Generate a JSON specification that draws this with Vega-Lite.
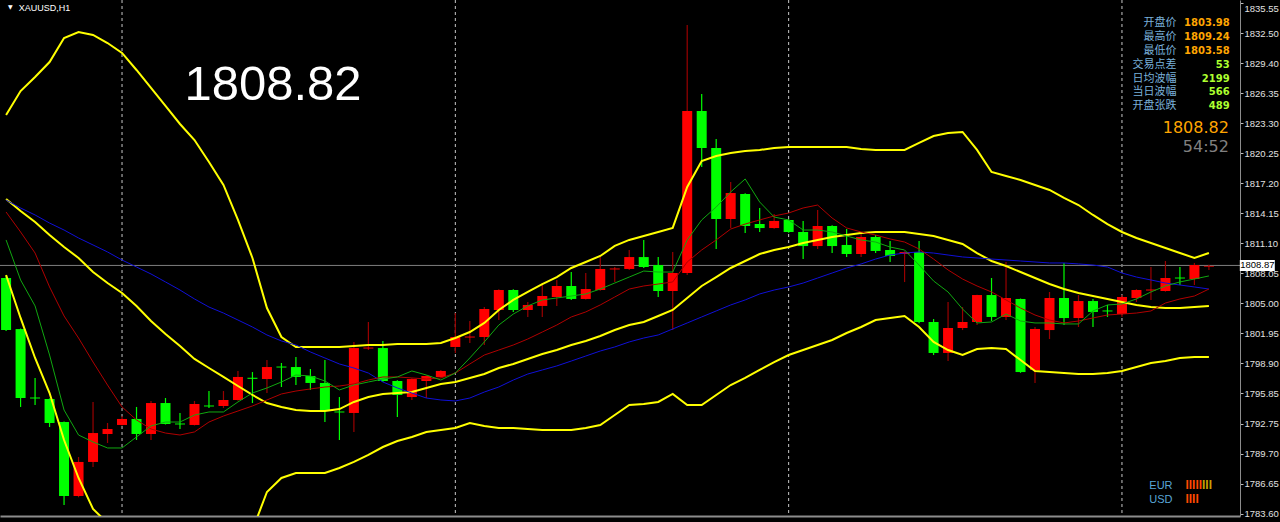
{
"$schema": "https://vega.github.io/schema/vega-lite/v6.json",
"width": 1240, "height": 516,
"autosize": {"type": "none"},
"padding": {"left": 0, "top": 0, "right": 40, "bottom": 6},
"background": "#000000",
"config": {"view": {"stroke": null}, "axis": {"grid": false}},
"resolve": {"axis": {"x": "independent", "y": "independent"}},
"datasets": {
"bars": [
{"i":0,"o":1807.59,"h":1807.80,"l":1802.20,"c":1802.30,"g":1811.46,"r":1814.30,"b":1815.52,"u":1824.16,"m":1815.62,"lo":1807.90},
{"i":1,"o":1802.40,"h":1802.45,"l":1794.48,"c":1795.39,"g":1807.39,"r":1812.27,"b":1814.71,"u":1826.60,"m":1814.40,"lo":1803.53},
{"i":2,"o":1795.44,"h":1797.43,"l":1794.68,"c":1795.34,"g":1804.75,"r":1810.13,"b":1814.00,"u":1828.03,"m":1813.29,"lo":1799.46},
{"i":3,"o":1795.29,"h":1795.35,"l":1792.44,"c":1792.85,"g":1799.76,"r":1806.68,"b":1813.18,"u":1829.55,"m":1811.96,"lo":1795.90},
{"i":4,"o":1792.95,"h":1793.00,"l":1784.51,"c":1785.43,"g":1794.17,"r":1803.73,"b":1812.47,"u":1831.99,"m":1810.74,"lo":1791.12},
{"i":5,"o":1785.43,"h":1789.39,"l":1785.30,"c":1788.89,"g":1791.63,"r":1801.49,"b":1811.66,"u":1832.60,"m":1809.63,"lo":1787.26},
{"i":6,"o":1788.89,"h":1794.99,"l":1788.38,"c":1791.83,"g":1790.92,"r":1799.05,"b":1810.95,"u":1832.30,"m":1808.20,"lo":1784.11},
{"i":7,"o":1791.73,"h":1792.85,"l":1790.82,"c":1792.24,"g":1790.31,"r":1796.71,"b":1810.24,"u":1831.48,"m":1807.08,"lo":1782.68},
{"i":8,"o":1792.65,"h":1793.56,"l":1792.60,"c":1793.26,"g":1790.31,"r":1794.48,"b":1809.42,"u":1830.47,"m":1806.07,"lo":1781.67},
{"i":9,"o":1793.26,"h":1794.48,"l":1791.12,"c":1791.73,"g":1791.43,"r":1793.16,"b":1808.71,"u":1828.74,"m":1804.75,"lo":1780.75},
{"i":10,"o":1791.73,"h":1795.09,"l":1791.12,"c":1794.88,"g":1792.55,"r":1792.24,"b":1808.00,"u":1826.91,"m":1803.22,"lo":1779.94},
{"i":11,"o":1794.88,"h":1795.39,"l":1792.70,"c":1792.75,"g":1792.95,"r":1791.83,"b":1807.19,"u":1825.08,"m":1801.90,"lo":1778.92},
{"i":12,"o":1792.80,"h":1793.87,"l":1792.24,"c":1792.70,"g":1792.95,"r":1791.63,"b":1806.37,"u":1823.25,"m":1800.68,"lo":1778.41},
{"i":13,"o":1792.65,"h":1795.09,"l":1792.60,"c":1794.78,"g":1793.66,"r":1791.94,"b":1805.46,"u":1821.62,"m":1799.36,"lo":1777.40},
{"i":14,"o":1794.63,"h":1796.10,"l":1794.37,"c":1794.53,"g":1793.97,"r":1792.95,"b":1804.64,"u":1819.39,"m":1798.44,"lo":1778.31},
{"i":15,"o":1794.58,"h":1796.10,"l":1794.37,"c":1795.19,"g":1793.97,"r":1793.56,"b":1804.03,"u":1817.05,"m":1797.53,"lo":1779.53},
{"i":16,"o":1795.19,"h":1798.14,"l":1795.10,"c":1797.53,"g":1794.99,"r":1794.07,"b":1803.32,"u":1813.49,"m":1796.61,"lo":1780.75},
{"i":17,"o":1797.45,"h":1798.03,"l":1794.88,"c":1797.34,"g":1795.90,"r":1794.58,"b":1802.61,"u":1809.63,"m":1795.70,"lo":1781.97},
{"i":18,"o":1797.32,"h":1799.25,"l":1795.90,"c":1798.54,"g":1796.41,"r":1795.19,"b":1801.80,"u":1804.54,"m":1794.88,"lo":1785.84},
{"i":19,"o":1798.59,"h":1798.95,"l":1796.51,"c":1798.49,"g":1797.02,"r":1795.80,"b":1801.19,"u":1801.59,"m":1794.48,"lo":1787.26},
{"i":20,"o":1798.54,"h":1799.56,"l":1796.71,"c":1797.53,"g":1797.73,"r":1796.10,"b":1800.78,"u":1800.58,"m":1794.17,"lo":1787.77},
{"i":21,"o":1797.63,"h":1798.34,"l":1796.21,"c":1796.92,"g":1797.63,"r":1796.31,"b":1800.07,"u":1800.58,"m":1794.07,"lo":1787.77},
{"i":22,"o":1796.92,"h":1799.25,"l":1792.95,"c":1794.17,"g":1797.12,"r":1796.51,"b":1799.46,"u":1800.58,"m":1794.07,"lo":1787.77},
{"i":23,"o":1794.02,"h":1795.49,"l":1791.12,"c":1793.92,"g":1796.21,"r":1796.61,"b":1798.85,"u":1800.58,"m":1794.27,"lo":1788.28},
{"i":24,"o":1793.87,"h":1801.08,"l":1791.93,"c":1800.47,"g":1796.71,"r":1796.82,"b":1798.44,"u":1800.68,"m":1794.99,"lo":1788.89},
{"i":25,"o":1800.42,"h":1803.12,"l":1800.27,"c":1800.52,"g":1797.02,"r":1797.22,"b":1797.93,"u":1800.78,"m":1795.49,"lo":1789.60},
{"i":26,"o":1800.47,"h":1801.19,"l":1797.02,"c":1797.12,"g":1797.32,"r":1797.53,"b":1797.02,"u":1800.78,"m":1795.80,"lo":1790.41},
{"i":27,"o":1797.12,"h":1797.20,"l":1793.46,"c":1795.70,"g":1797.53,"r":1797.53,"b":1796.41,"u":1800.88,"m":1795.90,"lo":1791.02},
{"i":28,"o":1795.49,"h":1797.40,"l":1795.19,"c":1797.32,"g":1798.14,"r":1797.43,"b":1795.90,"u":1800.88,"m":1796.00,"lo":1791.43},
{"i":29,"o":1797.12,"h":1797.70,"l":1795.39,"c":1797.63,"g":1797.73,"r":1797.32,"b":1795.39,"u":1800.88,"m":1796.41,"lo":1791.93},
{"i":30,"o":1797.53,"h":1798.24,"l":1797.45,"c":1798.14,"g":1797.22,"r":1797.43,"b":1795.19,"u":1800.98,"m":1796.82,"lo":1792.14},
{"i":31,"o":1800.58,"h":1804.03,"l":1799.97,"c":1801.59,"g":1797.93,"r":1797.93,"b":1795.09,"u":1801.49,"m":1797.02,"lo":1792.34},
{"i":32,"o":1801.54,"h":1803.22,"l":1800.98,"c":1801.64,"g":1799.46,"r":1798.85,"b":1795.39,"u":1802.10,"m":1797.43,"lo":1792.85},
{"i":33,"o":1801.59,"h":1804.64,"l":1800.78,"c":1804.44,"g":1801.09,"r":1799.76,"b":1796.00,"u":1803.02,"m":1797.83,"lo":1792.55},
{"i":34,"o":1804.34,"h":1806.45,"l":1803.32,"c":1806.37,"g":1802.81,"r":1800.27,"b":1796.51,"u":1804.34,"m":1798.44,"lo":1792.34},
{"i":35,"o":1806.37,"h":1806.45,"l":1804.14,"c":1804.34,"g":1803.93,"r":1800.78,"b":1797.22,"u":1805.36,"m":1798.85,"lo":1792.34},
{"i":36,"o":1804.34,"h":1805.15,"l":1803.63,"c":1804.85,"g":1804.75,"r":1801.39,"b":1797.83,"u":1806.17,"m":1799.36,"lo":1792.24},
{"i":37,"o":1804.75,"h":1807.08,"l":1803.63,"c":1805.76,"g":1805.36,"r":1802.10,"b":1798.24,"u":1806.98,"m":1799.87,"lo":1792.14},
{"i":38,"o":1805.66,"h":1807.39,"l":1804.75,"c":1806.78,"g":1805.56,"r":1802.81,"b":1798.65,"u":1807.69,"m":1800.27,"lo":1792.14},
{"i":39,"o":1806.78,"h":1808.20,"l":1805.36,"c":1805.46,"g":1805.76,"r":1803.63,"b":1799.15,"u":1808.61,"m":1800.78,"lo":1792.14},
{"i":40,"o":1805.46,"h":1808.10,"l":1805.40,"c":1806.47,"g":1805.97,"r":1804.14,"b":1799.66,"u":1809.22,"m":1801.19,"lo":1792.34},
{"i":41,"o":1806.37,"h":1809.72,"l":1806.30,"c":1808.51,"g":1806.47,"r":1804.85,"b":1800.17,"u":1809.83,"m":1801.70,"lo":1792.65},
{"i":42,"o":1808.46,"h":1808.71,"l":1807.18,"c":1808.56,"g":1807.08,"r":1805.66,"b":1800.58,"u":1810.85,"m":1802.30,"lo":1793.66},
{"i":43,"o":1808.51,"h":1810.44,"l":1808.41,"c":1809.72,"g":1807.69,"r":1806.47,"b":1801.09,"u":1811.46,"m":1802.81,"lo":1794.68},
{"i":44,"o":1809.72,"h":1811.45,"l":1808.60,"c":1808.71,"g":1808.30,"r":1806.78,"b":1801.49,"u":1811.86,"m":1803.12,"lo":1794.78},
{"i":45,"o":1808.91,"h":1809.72,"l":1805.66,"c":1806.27,"g":1808.20,"r":1806.98,"b":1801.80,"u":1812.27,"m":1803.73,"lo":1794.99},
{"i":46,"o":1806.27,"h":1810.23,"l":1802.30,"c":1808.10,"g":1808.20,"r":1807.19,"b":1802.41,"u":1812.68,"m":1804.34,"lo":1795.80},
{"i":47,"o":1808.10,"h":1833.31,"l":1807.90,"c":1824.57,"g":1811.46,"r":1809.22,"b":1803.02,"u":1816.84,"m":1805.56,"lo":1794.68},
{"i":48,"o":1824.57,"h":1826.30,"l":1818.88,"c":1820.81,"g":1813.49,"r":1810.44,"b":1803.63,"u":1819.49,"m":1806.78,"lo":1794.68},
{"i":49,"o":1820.81,"h":1821.72,"l":1810.54,"c":1813.59,"g":1814.81,"r":1811.46,"b":1804.24,"u":1820.00,"m":1807.69,"lo":1795.70},
{"i":50,"o":1813.59,"h":1817.35,"l":1812.67,"c":1816.23,"g":1816.34,"r":1812.57,"b":1804.85,"u":1820.30,"m":1808.61,"lo":1796.71},
{"i":51,"o":1816.13,"h":1816.20,"l":1812.17,"c":1812.88,"g":1817.66,"r":1813.08,"b":1805.36,"u":1820.50,"m":1809.32,"lo":1797.43},
{"i":52,"o":1813.08,"h":1814.71,"l":1812.27,"c":1812.67,"g":1815.32,"r":1813.49,"b":1805.97,"u":1820.61,"m":1810.03,"lo":1798.24},
{"i":53,"o":1812.67,"h":1814.10,"l":1812.60,"c":1813.39,"g":1813.79,"r":1813.90,"b":1806.37,"u":1820.81,"m":1810.44,"lo":1799.05},
{"i":54,"o":1813.49,"h":1813.60,"l":1812.20,"c":1812.27,"g":1813.49,"r":1814.20,"b":1806.68,"u":1820.91,"m":1810.74,"lo":1799.76},
{"i":55,"o":1812.27,"h":1813.39,"l":1809.52,"c":1810.84,"g":1812.47,"r":1814.71,"b":1807.08,"u":1820.91,"m":1811.15,"lo":1800.27},
{"i":56,"o":1810.84,"h":1814.50,"l":1810.54,"c":1812.88,"g":1812.47,"r":1815.01,"b":1807.59,"u":1820.91,"m":1811.46,"lo":1800.78},
{"i":57,"o":1812.88,"h":1812.95,"l":1810.13,"c":1810.84,"g":1812.27,"r":1813.69,"b":1808.10,"u":1820.91,"m":1811.76,"lo":1801.29},
{"i":58,"o":1810.95,"h":1812.57,"l":1809.72,"c":1810.03,"g":1811.86,"r":1812.68,"b":1808.61,"u":1820.91,"m":1811.96,"lo":1802.00},
{"i":59,"o":1810.03,"h":1812.17,"l":1809.72,"c":1811.76,"g":1811.46,"r":1812.27,"b":1809.02,"u":1820.71,"m":1812.17,"lo":1802.61},
{"i":60,"o":1811.76,"h":1811.96,"l":1810.13,"c":1810.34,"g":1811.25,"r":1811.96,"b":1809.52,"u":1820.61,"m":1812.27,"lo":1803.32},
{"i":61,"o":1810.44,"h":1811.35,"l":1809.22,"c":1809.83,"g":1810.74,"r":1811.56,"b":1809.93,"u":1820.61,"m":1812.27,"lo":1803.53},
{"i":62,"o":1810.03,"h":1810.30,"l":1807.18,"c":1810.23,"g":1810.44,"r":1811.25,"b":1810.13,"u":1820.61,"m":1812.27,"lo":1803.73},
{"i":63,"o":1810.23,"h":1811.35,"l":1803.00,"c":1803.12,"g":1808.91,"r":1810.54,"b":1810.24,"u":1821.32,"m":1812.07,"lo":1802.61},
{"i":64,"o":1803.12,"h":1803.42,"l":1799.76,"c":1799.97,"g":1807.29,"r":1809.52,"b":1810.13,"u":1822.03,"m":1811.86,"lo":1801.09},
{"i":65,"o":1799.97,"h":1805.15,"l":1799.15,"c":1802.51,"g":1806.17,"r":1808.41,"b":1809.93,"u":1822.33,"m":1811.46,"lo":1800.27},
{"i":66,"o":1802.51,"h":1804.64,"l":1802.30,"c":1803.12,"g":1804.44,"r":1807.49,"b":1809.73,"u":1822.44,"m":1811.05,"lo":1799.76},
{"i":67,"o":1803.12,"h":1805.90,"l":1802.81,"c":1805.86,"g":1803.02,"r":1806.78,"b":1809.63,"u":1820.61,"m":1810.13,"lo":1800.37},
{"i":68,"o":1805.86,"h":1807.59,"l":1803.22,"c":1803.63,"g":1803.12,"r":1806.17,"b":1809.52,"u":1818.37,"m":1809.32,"lo":1800.48},
{"i":69,"o":1803.63,"h":1809.22,"l":1803.32,"c":1805.56,"g":1803.93,"r":1805.36,"b":1809.42,"u":1817.96,"m":1808.81,"lo":1800.37},
{"i":70,"o":1805.46,"h":1805.50,"l":1797.95,"c":1798.03,"g":1803.22,"r":1804.54,"b":1809.32,"u":1817.56,"m":1808.20,"lo":1799.25},
{"i":71,"o":1798.24,"h":1802.61,"l":1796.92,"c":1802.41,"g":1803.02,"r":1803.83,"b":1809.22,"u":1817.05,"m":1807.59,"lo":1798.14},
{"i":72,"o":1802.30,"h":1806.17,"l":1801.39,"c":1805.56,"g":1803.02,"r":1803.32,"b":1809.12,"u":1816.54,"m":1806.98,"lo":1798.04},
{"i":73,"o":1805.56,"h":1809.12,"l":1802.81,"c":1803.52,"g":1802.92,"r":1803.02,"b":1809.12,"u":1815.73,"m":1806.47,"lo":1797.93},
{"i":74,"o":1803.52,"h":1805.86,"l":1802.61,"c":1805.25,"g":1802.92,"r":1803.22,"b":1809.02,"u":1815.01,"m":1806.07,"lo":1797.83},
{"i":75,"o":1805.25,"h":1805.46,"l":1802.61,"c":1804.14,"g":1804.24,"r":1803.53,"b":1808.91,"u":1814.00,"m":1805.76,"lo":1797.83},
{"i":76,"o":1804.29,"h":1804.85,"l":1803.63,"c":1804.19,"g":1804.85,"r":1803.83,"b":1808.71,"u":1813.08,"m":1805.46,"lo":1797.93},
{"i":77,"o":1803.93,"h":1805.86,"l":1803.63,"c":1805.66,"g":1804.95,"r":1803.93,"b":1808.10,"u":1812.27,"m":1805.15,"lo":1798.14},
{"i":78,"o":1805.56,"h":1806.45,"l":1805.15,"c":1806.37,"g":1805.46,"r":1804.03,"b":1807.69,"u":1811.66,"m":1804.85,"lo":1798.54},
{"i":79,"o":1806.32,"h":1808.71,"l":1805.36,"c":1806.42,"g":1806.17,"r":1804.24,"b":1807.39,"u":1811.15,"m":1804.64,"lo":1798.95},
{"i":80,"o":1806.27,"h":1809.32,"l":1806.20,"c":1807.59,"g":1806.78,"r":1805.05,"b":1807.08,"u":1810.64,"m":1804.54,"lo":1799.15},
{"i":81,"o":1807.64,"h":1808.71,"l":1806.88,"c":1807.54,"g":1807.19,"r":1805.46,"b":1806.88,"u":1810.13,"m":1804.54,"lo":1799.46},
{"i":82,"o":1807.49,"h":1809.12,"l":1806.88,"c":1808.91,"g":1807.49,"r":1805.76,"b":1806.68,"u":1809.63,"m":1804.64,"lo":1799.56},
{"i":83,"o":1808.75,"h":1808.95,"l":1808.41,"c":1808.82,"g":1807.80,"r":1806.47,"b":1806.47,"u":1810.13,"m":1804.75,"lo":1799.56}
]
},
"layer": [
{"data": {"values": [{"i":8},{"i":31},{"i":54},{"i":77}]},
 "mark": {"type":"rule","color":"#c8c8c8","strokeDash":[3,3],"strokeWidth":1},
 "encoding": {"x": {"field":"i","type":"quantitative","scale":{"domain":[-0.075,84.8],"nice":false,"zero":false},"axis":null}}},
{"data": {"values": [{"p":1808.87}]},
 "mark": {"type":"rule","color":"#7f7f7f","strokeWidth":1},
 "encoding": {"y": {"field":"p","type":"quantitative","scale":{"domain":[1783.395,1835.855],"nice":false,"zero":false},"axis":null}}},
{"data": {"name":"bars"},
 "mark": {"type":"rule","strokeWidth":1.2,"clip":true},
 "encoding": {
   "x": {"field":"i","type":"quantitative","scale":{"domain":[-0.075,84.8],"nice":false,"zero":false},
         "axis":{"orient":"bottom","labels":false,"ticks":false,"domain":true,"domainColor":"#8c8c8c","domainWidth":2,"title":null,"grid":false}},
   "y": {"field":"l","type":"quantitative","scale":{"domain":[1783.395,1835.855],"nice":false,"zero":false},
         "axis":{"orient":"right","title":null,"grid":false,"format":".2f",
                 "values":[1835.55,1832.50,1829.40,1826.35,1823.30,1820.25,1817.20,1814.15,1811.10,1808.05,1805.00,1801.95,1798.90,1795.85,1792.75,1789.70,1786.65,1783.60],
                 "domainColor":"#8c8c8c","domainWidth":1,"tickColor":"#bfbfbf","tickSize":3,"labelPadding":1,
                 "labelBaseline":{"condition":{"test":"datum.value > 1835","value":"top"},"value":"middle"},
                 "labelColor":"#e0e0e0","labelFont":"Liberation Sans","labelFontSize":9.5,"labelOverlap":false,"labelFlush":false,"labelBound":false}},
   "y2": {"field":"h"},
   "color": {"condition":{"test":"datum.c >= datum.o","value":"#9a0000"},"value":"#00ff00"}
 }},
{"data": {"name":"bars"},
 "mark": {"type":"bar","width":10,"clip":true},
 "encoding": {
   "x": {"field":"i","type":"quantitative","scale":{"domain":[-0.075,84.8],"nice":false,"zero":false},"axis":null},
   "y": {"field":"o","type":"quantitative","scale":{"domain":[1783.395,1835.855],"nice":false,"zero":false},"axis":null},
   "y2": {"field":"c"},
   "color": {"condition":{"test":"datum.c >= datum.o","value":"#ff0000"},"value":"#00ff00"}
 }},
{"data": {"name":"bars"},
 "mark": {"type":"line","color":"#ffff00","strokeWidth":2,"clip":true},
 "encoding": {
   "x": {"field":"i","type":"quantitative","scale":{"domain":[-0.075,84.8],"nice":false,"zero":false},"axis":null},
   "y": {"field":"u","type":"quantitative","scale":{"domain":[1783.395,1835.855],"nice":false,"zero":false},"axis":null}}},
{"data": {"name":"bars"},
 "mark": {"type":"line","color":"#ffff00","strokeWidth":2,"clip":true},
 "encoding": {
   "x": {"field":"i","type":"quantitative","scale":{"domain":[-0.075,84.8],"nice":false,"zero":false},"axis":null},
   "y": {"field":"m","type":"quantitative","scale":{"domain":[1783.395,1835.855],"nice":false,"zero":false},"axis":null}}},
{"data": {"name":"bars"},
 "mark": {"type":"line","color":"#ffff00","strokeWidth":2,"clip":true},
 "encoding": {
   "x": {"field":"i","type":"quantitative","scale":{"domain":[-0.075,84.8],"nice":false,"zero":false},"axis":null},
   "y": {"field":"lo","type":"quantitative","scale":{"domain":[1783.395,1835.855],"nice":false,"zero":false},"axis":null}}},
{"data": {"name":"bars"},
 "mark": {"type":"line","color":"#1010d8","strokeWidth":1,"clip":true},
 "encoding": {
   "x": {"field":"i","type":"quantitative","scale":{"domain":[-0.075,84.8],"nice":false,"zero":false},"axis":null},
   "y": {"field":"b","type":"quantitative","scale":{"domain":[1783.395,1835.855],"nice":false,"zero":false},"axis":null}}},
{"data": {"name":"bars"},
 "mark": {"type":"line","color":"#b00000","strokeWidth":1,"clip":true},
 "encoding": {
   "x": {"field":"i","type":"quantitative","scale":{"domain":[-0.075,84.8],"nice":false,"zero":false},"axis":null},
   "y": {"field":"r","type":"quantitative","scale":{"domain":[1783.395,1835.855],"nice":false,"zero":false},"axis":null}}},
{"data": {"name":"bars"},
 "mark": {"type":"line","color":"#10a810","strokeWidth":1,"clip":true},
 "encoding": {
   "x": {"field":"i","type":"quantitative","scale":{"domain":[-0.075,84.8],"nice":false,"zero":false},"axis":null},
   "y": {"field":"g","type":"quantitative","scale":{"domain":[1783.395,1835.855],"nice":false,"zero":false},"axis":null}}},
{"data": {"values": [{"x":86.34,"y":1808.87}]},
 "mark": {"type":"point","shape":"M-1,-0.3143H1V0.3143H-1Z","size":1225,"filled":true,"color":"#ffffff","opacity":1,"clip":false},
 "encoding": {
   "x": {"field":"x","type":"quantitative","scale":{"domain":[-0.075,84.8],"nice":false,"zero":false},"axis":null},
   "y": {"field":"y","type":"quantitative","scale":{"domain":[1783.395,1835.855],"nice":false,"zero":false},"axis":null}}},
{"data": {"values": [{"x":86.34,"y":1808.87,"t":"1808.87"}]},
 "mark": {"type":"text","align":"center","baseline":"middle","font":"Liberation Sans","fontSize":9.5,"color":"#000000","clip":false},
 "encoding": {
   "x": {"field":"x","type":"quantitative","scale":{"domain":[-0.075,84.8],"nice":false,"zero":false},"axis":null},
   "y": {"field":"y","type":"quantitative","scale":{"domain":[1783.395,1835.855],"nice":false,"zero":false},"axis":null},
   "text": {"field":"t"}}},
{"data": {"values": [{"x":12.31,"y":1825.69,"t":"1808.82"}]},
 "mark": {"type":"text","align":"left","baseline":"alphabetic","font":"Liberation Sans","fontSize":49,"color":"#ffffff"},
 "encoding": {
   "x": {"field":"x","type":"quantitative","scale":{"domain":[-0.075,84.8],"nice":false,"zero":false},"axis":null},
   "y": {"field":"y","type":"quantitative","scale":{"domain":[1783.395,1835.855],"nice":false,"zero":false},"axis":null},
   "text": {"field":"t"}}},
{"data": {"values": [{"x":0.88,"y":1834.74,"t":"XAUUSD,H1"}]},
 "mark": {"type":"text","align":"left","baseline":"alphabetic","font":"Liberation Sans","fontSize":9,"color":"#ffffff"},
 "encoding": {
   "x": {"field":"x","type":"quantitative","scale":{"domain":[-0.075,84.8],"nice":false,"zero":false},"axis":null},
   "y": {"field":"y","type":"quantitative","scale":{"domain":[1783.395,1835.855],"nice":false,"zero":false},"axis":null},
   "text": {"field":"t"}}},
{"data": {"values": [{"x":0.13,"y":1834.95,"t":"▼"}]},
 "mark": {"type":"text","align":"left","baseline":"alphabetic","font":"DejaVu Sans","fontSize":6,"color":"#ffffff"},
 "encoding": {
   "x": {"field":"x","type":"quantitative","scale":{"domain":[-0.075,84.8],"nice":false,"zero":false},"axis":null},
   "y": {"field":"y","type":"quantitative","scale":{"domain":[1783.395,1835.855],"nice":false,"zero":false},"axis":null},
   "text": {"field":"t"}}},
{"data": {"values": [
   {"x":80.76,"y":1833.17,"t":"开盘价"},{"x":80.76,"y":1831.77,"t":"最高价"},{"x":80.76,"y":1830.37,"t":"最低价"},
   {"x":80.76,"y":1828.96,"t":"交易点差"},{"x":80.76,"y":1827.56,"t":"日均波幅"},{"x":80.76,"y":1826.16,"t":"当日波幅"},{"x":80.76,"y":1824.75,"t":"开盘张跌"}]},
 "mark": {"type":"text","align":"right","baseline":"alphabetic","font":"Noto Sans CJK SC","fontSize":11,"color":"#79b0da"},
 "encoding": {
   "x": {"field":"x","type":"quantitative","scale":{"domain":[-0.075,84.8],"nice":false,"zero":false},"axis":null},
   "y": {"field":"y","type":"quantitative","scale":{"domain":[1783.395,1835.855],"nice":false,"zero":false},"axis":null},
   "text": {"field":"t"}}},
{"data": {"values": [
   {"x":84.43,"y":1833.17,"t":"1803.98"},{"x":84.43,"y":1831.77,"t":"1809.24"},{"x":84.43,"y":1830.37,"t":"1803.58"}]},
 "mark": {"type":"text","align":"right","baseline":"alphabetic","font":"DejaVu Sans","fontWeight":"bold","fontSize":10,"color":"#ffa500"},
 "encoding": {
   "x": {"field":"x","type":"quantitative","scale":{"domain":[-0.075,84.8],"nice":false,"zero":false},"axis":null},
   "y": {"field":"y","type":"quantitative","scale":{"domain":[1783.395,1835.855],"nice":false,"zero":false},"axis":null},
   "text": {"field":"t"}}},
{"data": {"values": [
   {"x":84.43,"y":1828.96,"t":"53"},{"x":84.43,"y":1827.56,"t":"2199"},{"x":84.43,"y":1826.16,"t":"566"},{"x":84.43,"y":1824.75,"t":"489"}]},
 "mark": {"type":"text","align":"right","baseline":"alphabetic","font":"DejaVu Sans","fontWeight":"bold","fontSize":10,"color":"#adff2f"},
 "encoding": {
   "x": {"field":"x","type":"quantitative","scale":{"domain":[-0.075,84.8],"nice":false,"zero":false},"axis":null},
   "y": {"field":"y","type":"quantitative","scale":{"domain":[1783.395,1835.855],"nice":false,"zero":false},"axis":null},
   "text": {"field":"t"}}},
{"data": {"values": [{"x":84.38,"y":1822.33,"t":"1808.82"}]},
 "mark": {"type":"text","align":"right","baseline":"alphabetic","font":"DejaVu Sans","fontSize":16,"color":"#ffa500"},
 "encoding": {
   "x": {"field":"x","type":"quantitative","scale":{"domain":[-0.075,84.8],"nice":false,"zero":false},"axis":null},
   "y": {"field":"y","type":"quantitative","scale":{"domain":[1783.395,1835.855],"nice":false,"zero":false},"axis":null},
   "text": {"field":"t"}}},
{"data": {"values": [{"x":84.38,"y":1820.40,"t":"54:52"}]},
 "mark": {"type":"text","align":"right","baseline":"alphabetic","font":"DejaVu Sans","fontSize":16,"color":"#808080"},
 "encoding": {
   "x": {"field":"x","type":"quantitative","scale":{"domain":[-0.075,84.8],"nice":false,"zero":false},"axis":null},
   "y": {"field":"y","type":"quantitative","scale":{"domain":[1783.395,1835.855],"nice":false,"zero":false},"axis":null},
   "text": {"field":"t"}}},
{"data": {"values": [{"x":80.49,"y":1786.09,"t":"EUR"},{"x":80.49,"y":1784.75,"t":"USD"}]},
 "mark": {"type":"text","align":"right","baseline":"alphabetic","font":"Liberation Sans","fontSize":11,"color":"#58a6d6"},
 "encoding": {
   "x": {"field":"x","type":"quantitative","scale":{"domain":[-0.075,84.8],"nice":false,"zero":false},"axis":null},
   "y": {"field":"y","type":"quantitative","scale":{"domain":[1783.395,1835.855],"nice":false,"zero":false},"axis":null},
   "text": {"field":"t"}}},
{"data": {"values": [{"x":81.38,"y":1786.09,"t":"IIIII"},{"x":81.38,"y":1784.75,"t":"IIII"}]},
 "mark": {"type":"text","align":"left","baseline":"alphabetic","font":"Liberation Sans","fontWeight":"bold","fontSize":12,"color":"#ff4a00"},
 "encoding": {
   "x": {"field":"x","type":"quantitative","scale":{"domain":[-0.075,84.8],"nice":false,"zero":false},"axis":null},
   "y": {"field":"y","type":"quantitative","scale":{"domain":[1783.395,1835.855],"nice":false,"zero":false},"axis":null},
   "text": {"field":"t"}}},
{"data": {"values": [{"x":82.52,"y":1786.09,"t":"III"}]},
 "mark": {"type":"text","align":"left","baseline":"alphabetic","font":"Liberation Sans","fontWeight":"bold","fontSize":12,"color":"#c8a000"},
 "encoding": {
   "x": {"field":"x","type":"quantitative","scale":{"domain":[-0.075,84.8],"nice":false,"zero":false},"axis":null},
   "y": {"field":"y","type":"quantitative","scale":{"domain":[1783.395,1835.855],"nice":false,"zero":false},"axis":null},
   "text": {"field":"t"}}}
]
}
